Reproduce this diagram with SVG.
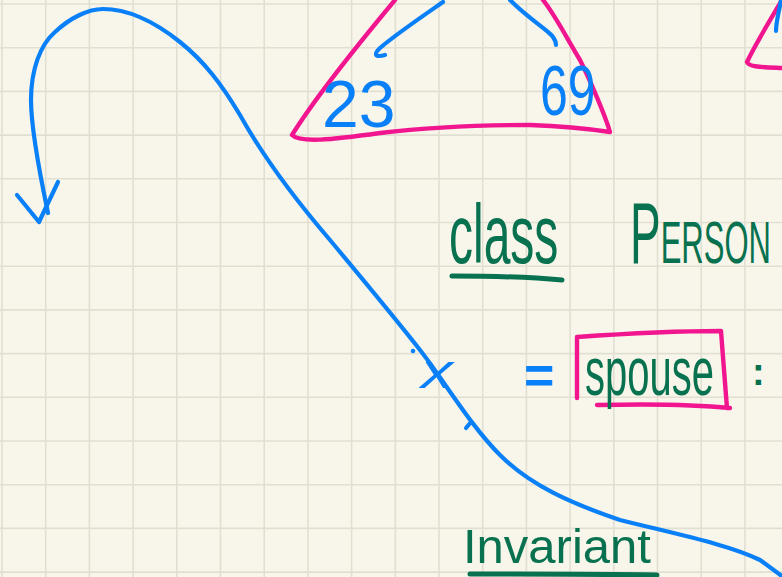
<svg xmlns="http://www.w3.org/2000/svg" width="782" height="577" viewBox="0 0 782 577">
<style>
.grid{stroke:#e1dfd2;stroke-width:1.6;fill:none}
.blue{stroke:#0a80f8;stroke-width:4.2;fill:none;stroke-linecap:round;stroke-linejoin:round}
.pink{stroke:#f1168f;stroke-width:4.4;fill:none;stroke-linecap:round;stroke-linejoin:round}
.green{stroke:#08714f;stroke-width:5;fill:none;stroke-linecap:round}
.gt{fill:#08714f;font-family:"Liberation Sans","DejaVu Sans",sans-serif}
.bt{fill:#0a80f8;font-family:"Liberation Sans","DejaVu Sans",sans-serif}
</style>
<rect width="782" height="577" fill="#f8f6ea"/>
<g id="grid" class="grid">
<path d="M2,0V577M45.7,0V577M89.4,0V577M133.1,0V577M176.8,0V577M220.5,0V577M264.2,0V577M307.9,0V577M351.6,0V577M395.3,0V577M439,0V577M482.7,0V577M526.4,0V577M570.1,0V577M613.8,0V577M657.5,0V577M701.2,0V577M744.9,0V577"/>
<path d="M0,4H782M0,47.7H782M0,91.4H782M0,135.1H782M0,178.8H782M0,222.5H782M0,266.2H782M0,309.9H782M0,353.6H782M0,397.3H782M0,441H782M0,484.7H782M0,528.4H782M0,572.1H782"/>
</g>
<g id="tree">
<path class="pink" d="M395,0 C370,30 320,90 292,135 C300,143 330,140 380,133 C430,127 490,125 530,125 C560,126 590,129 610,132 C605,115 590,80 580,60 C565,35 555,15 543,0"/>
<path class="pink" d="M782,0 C770,20 755,45 747,62 C749,67 760,67 782,68"/>
<path class="blue" d="M443,2 C420,18 395,35 380,48 C374,54 374,58 385,55"/>
<path class="blue" d="M510,0 C525,15 540,25 548,32 C553,36 556,40 556,45"/>
<path class="blue" d="M781,0 C779,12 776,22 776,31"/>
<text class="bt" x="322" y="127" font-size="66">23</text>
<text class="bt" transform="translate(540,115) scale(1,1.4)" x="0" y="0" font-size="50">69</text>
</g>
<g id="connectors">
<path class="blue" d="M48,213 C40,175 31,130 31,100 C31,70 40,45 55,32 C70,18 88,9 103,9 C130,9 155,22 180,42 C205,62 222,85 240,115 C265,160 300,205 330,240 C365,282 395,318 420,350 C445,382 470,425 500,455 C530,485 570,503 620,520 C680,535 730,545 760,560 L790,582"/>
<path class="blue" d="M17,195 L39,222 L58,182"/>
<circle cx="413" cy="351" r="2.3" fill="#0a80f8"/>
<path class="blue" d="M466,428 L471,422"/>
</g>
<g id="class-person">
<text class="gt" transform="translate(449,263) scale(1,1.74)" x="0" y="0" font-size="48">class</text>
<path class="green" d="M452,276 C490,276 530,277 562,280"/>
<text class="gt" transform="translate(630,263) scale(1,1.9)" x="0" y="0" font-size="46">P<tspan font-size="31">ERSON</tspan></text>
</g>
<g id="assignment">
<text class="bt" x="421" y="388" font-size="48" font-style="italic" textLength="32" lengthAdjust="spacingAndGlyphs">x</text>
<text class="bt" x="524" y="393" font-size="52" font-weight="bold">=</text>
<path class="pink" d="M577,398 L577,337 C620,334 680,331 721,331 C723,356 725,385 727,408 M597,405 C640,404 690,404 730,408"/>
<text class="gt" transform="translate(585,395) scale(1,1.7)" x="0" y="0" font-size="40">spouse</text>
<text class="gt" x="752" y="385" font-size="38" font-weight="bold">:</text>
</g>
<g id="invariant">
<text class="gt" x="463" y="563" font-size="49">Invariant</text>
<path class="green" stroke-width="6" d="M470,574 C530,574 600,574 657,575"/>
</g>
</svg>
